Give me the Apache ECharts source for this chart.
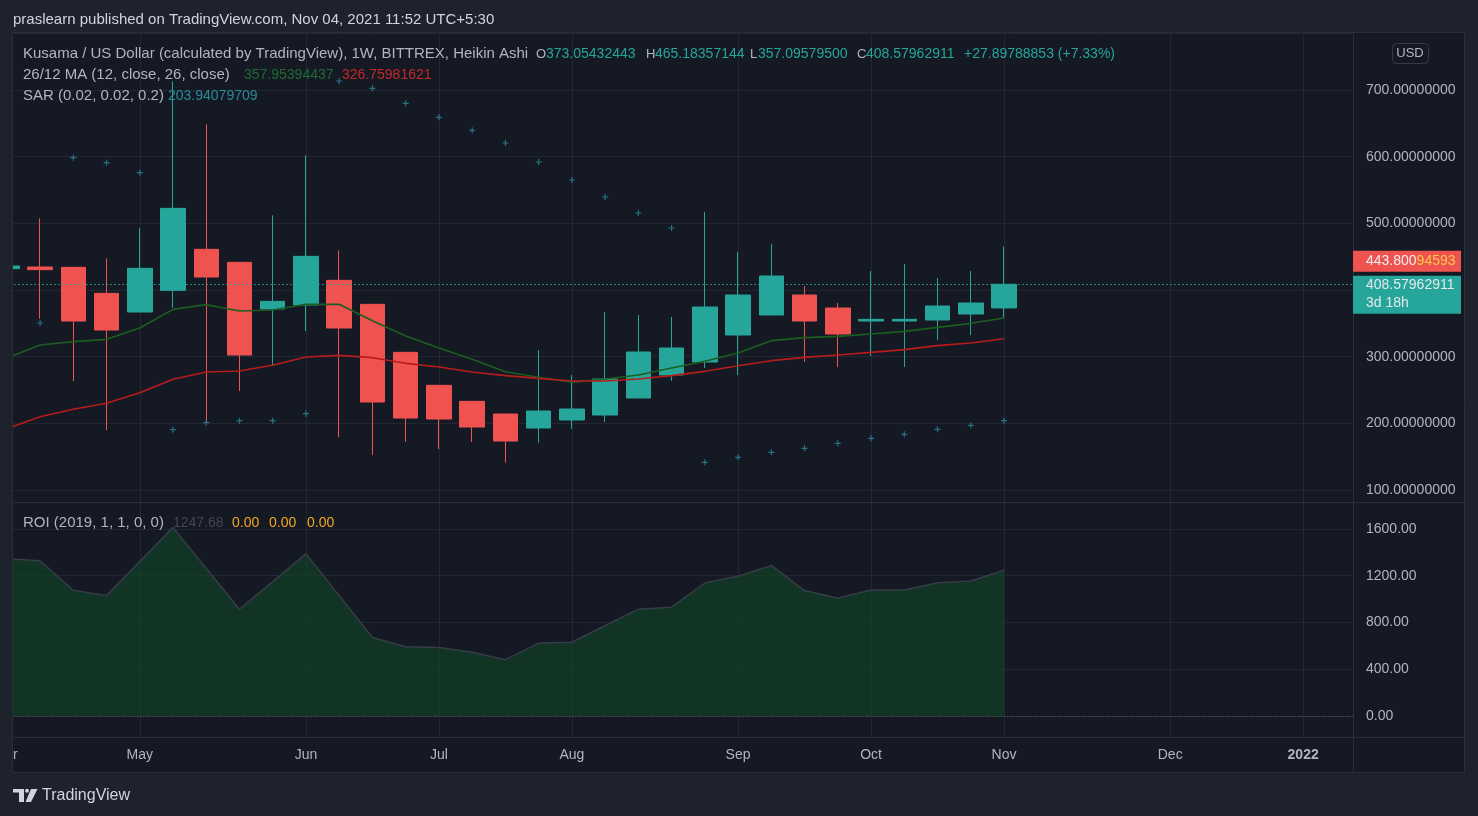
<!DOCTYPE html>
<html><head><meta charset="utf-8">
<script src="https://cdn.jsdelivr.net/npm/echarts@6/dist/echarts.min.js"></script>
<style>html,body{margin:0;padding:0;background:#1e222d;}#c{width:1478px;height:816px;}</style>
</head><body><div id="c"></div>
<script>
// ---------- DATA (weekly Heikin Ashi, KSM/USD) ----------
const weeks = ['2021-04-05','2021-04-12','2021-04-19','2021-04-26','2021-05-03','2021-05-10','2021-05-17','2021-05-24','2021-05-31',
  '2021-06-07','2021-06-14','2021-06-21','2021-06-28','2021-07-05','2021-07-12','2021-07-19','2021-07-26',
  '2021-08-02','2021-08-09','2021-08-16','2021-08-23','2021-08-30','2021-09-06','2021-09-13','2021-09-20','2021-09-27',
  '2021-10-04','2021-10-11','2021-10-18','2021-10-25','2021-11-01','2021-11-08','2021-11-15','2021-11-22','2021-11-29',
  '2021-12-06','2021-12-13','2021-12-20','2021-12-27','2022-01-03','2022-01-10'];
const openV  = [432, 434.5, 434, 395, 367, 399.5, 461, 441.5, 371.5, 377.5, 414.5, 378.5, 306.5, 257, 233, 214, 193, 205, 212.5, 238, 272.5, 292, 332.5, 362.5, 392.5, 373, 353.5, 353.5, 355, 364, 373.05432443];
const closeV = [436, 430.5, 353.5, 340, 432.5, 522.5, 419.5, 302.5, 383, 450.5, 343, 232, 208, 206.5, 194.5, 173.5, 218.5, 221.5, 266.5, 307, 313, 374.5, 392.5, 421, 353.5, 334, 356, 356, 376, 380.5, 408.57962911];
const lowV   = [432, 357, 263.5, 190, 367, 373.5, 201, 248.5, 287.5, 338.5, 179.5, 152.5, 172, 161.5, 172, 141, 171, 191.5, 202, 238, 263.5, 283, 272.5, 362.5, 292, 284.5, 301, 284.5, 325, 332.5, 357.095795];
const highV  = [436, 507.5, 434, 447.5, 492.5, 713, 648.5, 441.5, 512, 602, 459.5, 378.5, 306.5, 257, 233, 214, 310, 272.5, 367, 362.5, 359.5, 517, 457, 469, 406, 380.5, 428.5, 439, 418, 428.5, 465.18357144];
const ma12   = [298, 317.5, 322.5, 326, 343, 371, 378, 368.5, 370, 378.5, 378.5, 354, 331, 313, 296, 277.5, 269, 261.5, 266.5, 272.5, 283, 293, 305.5, 324, 328.5, 330.5, 334, 338, 344, 350, 357.95394437];
const ma26   = [192, 210, 221, 230, 246, 266, 277, 278.5, 287, 299.5, 302, 298.5, 290, 284.5, 277, 271.5, 267.5, 263.5, 263.5, 266.5, 271.5, 278, 286.5, 294, 299, 302.5, 306.5, 310.5, 316.5, 320.5, 326.75981621];
const sar    = [null, 350.5, 598.5, 591, 576, 190.5, 201, 204, 204, 214.5, 713.5, 702.5, 680, 659, 639.5, 620.5, 592, 565, 539.5, 515.5, 493, 141.5, 149, 156.5, 162.5, 170, 177.5, 183.5, 191, 197, 203.94079709];
const roi    = [1345, 1328, 1075, 1030, 1322, 1614, 1262, 913, 1150, 1387, 1030, 672, 593, 587, 545, 482, 624, 631, 772, 914, 931, 1138, 1197, 1288, 1073, 1008, 1078, 1078, 1141, 1155, 1247.68];
const monthTickIndex = [0, 4, 9, 13, 17, 22, 26, 30, 35, 39];
const monthTickLabel = ['Apr', 'May', 'Jun', 'Jul', 'Aug', 'Sep', 'Oct', 'Nov', 'Dec', '2022'];
const changeText = '+27.89788853 (+7.33%)';
const otherPrice = 443.80094593;
const countdown = '3d 18h';

// ---------- STYLE ----------
const PANEL = '#151924', OUTER = '#1e222d', GRIDC = '#232733', BORDER = '#2a2e39', TXT = '#b2b5be';
const TEAL = '#26a69a', RED = '#ef5350', SARC = '#2b8a9c';
const FONT = 'Liberation Sans';
const plotL = -9.8, plotR = 1353, W = 1478, H = 816;
const nCat = weeks.length, band = (plotR - plotL) / nCat;
const c0 = plotL + band / 2, cN = plotL + (nCat - 0.5) * band;
const last = closeV.length - 1;

const chart = echarts.init(document.getElementById('c'), null, {renderer: 'canvas'});
const hiddenCat = {axisLine: {show: false}, axisTick: {show: false}, axisLabel: {show: false}, splitLine: {show: false}};
chart.setOption({
  backgroundColor: PANEL,
  animation: false,
  textStyle: {fontFamily: FONT},
  grid: [
    {left: plotL, right: W - plotR, top: 33, bottom: H - 490, outerBoundsMode: 'none', containLabel: false},
    {left: plotL, right: W - plotR, top: 502, bottom: H - 716, outerBoundsMode: 'none', containLabel: false},
    {left: c0, right: W - cN, top: 33, bottom: H - 737, outerBoundsMode: 'none', containLabel: false}
  ],
  xAxis: [
    Object.assign({type: 'category', gridIndex: 0, data: weeks}, hiddenCat),
    Object.assign({type: 'category', gridIndex: 1, data: weeks}, hiddenCat),
    {type: 'category', gridIndex: 2, data: weeks, boundaryGap: false,
      axisLine: {show: false}, axisTick: {show: false},
      axisLabel: {show: true, interval: (i) => monthTickIndex.includes(i), margin: 11, color: TXT, fontSize: 14, fontFamily: FONT,
        formatter: (v, i) => { const k = monthTickIndex.indexOf(i); if (k < 0) return ''; const t = monthTickLabel[k]; return /^\d{4}$/.test(t) ? '{b|' + t + '}' : t; },
        rich: {b: {fontWeight: 'bold', color: TXT, fontSize: 14, fontFamily: FONT}}},
      splitLine: {show: true, interval: (i) => monthTickIndex.includes(i), lineStyle: {color: GRIDC, width: 1}}}
  ],
  yAxis: [
    {type: 'value', gridIndex: 0, position: 'right', min: 100, max: 785.5, interval: 100,
      axisLine: {show: false}, axisTick: {show: false},
      axisLabel: {color: TXT, fontSize: 14, margin: 13, fontFamily: FONT, showMaxLabel: false,
        formatter: (v) => Math.abs(v - 400) < 1e-6 ? '' : v.toFixed(8)},
      splitLine: {lineStyle: {color: GRIDC, width: 1}}},
    {type: 'value', gridIndex: 1, position: 'right', min: 0, max: 1831, interval: 400,
      axisLine: {show: false}, axisTick: {show: false},
      axisLabel: {color: TXT, fontSize: 14, margin: 13, fontFamily: FONT, showMaxLabel: false, formatter: (v) => v.toFixed(2)},
      splitLine: {lineStyle: {color: GRIDC, width: 1}}},
    {type: 'value', gridIndex: 2, show: false, min: 0, max: 1}
  ],
  series: [
    {type: 'line', name: 'MA12', xAxisIndex: 0, yAxisIndex: 0, data: ma12, symbol: 'none', lineStyle: {color: '#1b5e20', width: 1.6}},
    {type: 'line', name: 'MA26', xAxisIndex: 0, yAxisIndex: 0, data: ma26, symbol: 'none', lineStyle: {color: '#b71c1c', width: 1.6}},
    {type: 'candlestick', name: 'KSM', xAxisIndex: 0, yAxisIndex: 0, barWidth: 25,
      data: openV.map((o, i) => [o, closeV[i], lowV[i], highV[i]]),
      itemStyle: {color: TEAL, color0: RED, borderColor: TEAL, borderColor0: RED, borderWidth: 1},
      markLine: {silent: true, symbol: 'none', label: {show: false}, animation: false,
        lineStyle: {color: TEAL, type: [1.5, 2.5], width: 1}, data: [{yAxis: closeV[last]}]}},
    {type: 'scatter', name: 'SAR', xAxisIndex: 0, yAxisIndex: 0, data: sar, symbolSize: 6,
      symbol: 'path://M2,0H3V2H5V3H3V5H2V3H0V2H2Z', itemStyle: {color: SARC}},
    {type: 'line', name: 'ROI', xAxisIndex: 1, yAxisIndex: 1, data: roi, symbol: 'none',
      lineStyle: {color: '#363c48', width: 1.5}, areaStyle: {color: 'rgba(18,68,38,0.9)', origin: 'start'},
      markLine: {silent: true, symbol: 'none', label: {show: false}, animation: false,
        lineStyle: {color: '#5d606b', type: [1, 2], width: 1}, data: [{yAxis: 0}]}}
  ]
});

// ---------- overlays (frame, legends, price labels) ----------
const yTeal = chart.convertToPixel({yAxisIndex: 0}, closeV[last]);
const yRed = chart.convertToPixel({yAxisIndex: 0}, otherPrice);
const F14 = '14px "' + FONT + '"', F15 = '15px "' + FONT + '"';
const T = (x, y, text, fill, extra) => Object.assign({type: 'text', x: x, y: y, z: 110,
  style: Object.assign({text: text, fill: fill, font: F14, verticalAlign: 'middle', align: 'left'}, extra || {})});
const R = (x, y, w, h, fill, z) => ({type: 'rect', z: z || 100, shape: {x: x, y: y, width: w, height: h}, style: {fill: fill}});
const L = (x1, y1, x2, y2) => ({type: 'line', z: 105, shape: {x1: x1, y1: y1, x2: x2, y2: y2}, style: {stroke: BORDER, lineWidth: 1}});
const fmt8 = (v) => v.toFixed(8);
const W15 = {font: F15};
const F13 = {font: '13px "' + FONT + '"'};

const g = [
  R(0, 0, W, 33, OUTER), R(0, 0, 13, H, OUTER), R(1464, 0, W - 1464, H, OUTER), R(0, 772, W, H - 772, OUTER),
  {type: 'rect', z: 105, shape: {x: 12.5, y: 32.5, width: 1452, height: 740}, style: {fill: null, stroke: BORDER, lineWidth: 1}},
  L(13, 502.5, 1464, 502.5), L(13, 737.5, 1464, 737.5), L(1353.5, 33, 1353.5, 772),
  T(13, 20, 'praslearn published on TradingView.com, Nov 04, 2021 11:52 UTC+5:30', '#d1d4dc', W15),
  T(23, 54, 'Kusama / US Dollar (calculated by TradingView), 1W, BITTREX, Heikin Ashi', TXT, W15),
  T(536, 54, 'O', TXT, F13), T(546, 54, fmt8(openV[last]), TEAL),
  T(646, 54, 'H', TXT, F13), T(655, 54, fmt8(highV[last]), TEAL),
  T(750, 54, 'L', TXT, F13), T(758, 54, fmt8(lowV[last]), TEAL),
  T(857, 54, 'C', TXT, F13), T(866, 54, fmt8(closeV[last]), TEAL),
  T(964, 54, changeText, TEAL),
  T(23, 75, '26/12 MA (12, close, 26, close)', TXT, W15), T(244, 75, fmt8(ma12[last]), '#1f6b31'), T(342, 75, fmt8(ma26[last]), '#c62828'),
  T(23, 96, 'SAR (0.02, 0.02, 0.2)', TXT, W15), T(168, 96, fmt8(sar[last]), SARC),
  T(23, 523, 'ROI (2019, 1, 1, 0, 0)', TXT, W15), T(173, 523, roi[last].toFixed(2), '#434651'),
  T(232, 523, '0.00', '#f5a623'), T(269, 523, '0.00', '#f5a623'), T(307, 523, '0.00', '#f5a623'),
  {type: 'rect', z: 106, shape: {x: 1392.5, y: 43.5, width: 36, height: 20, r: 4}, style: {fill: PANEL, stroke: '#363a45', lineWidth: 1}},
  T(1410, 53.5, 'USD', TXT, {align: 'center', font: '13px "' + FONT + '"'}),
  R(1353, yRed - 10, 108, 21, RED, 107),
  {type: 'text', z: 110, x: 1366, y: yRed + 0.5, style: {text: '{w|' + fmt8(otherPrice).slice(0, 7) + '}{y|' + fmt8(otherPrice).slice(7) + '}',
    verticalAlign: 'middle', align: 'left', rich: {w: {fill: '#f0f0f0', font: F14}, y: {fill: '#f7c948', font: F14}}}},
  R(1353, yTeal - 8.5, 108, 38, TEAL, 107),
  T(1366, yTeal + 1, fmt8(closeV[last]), '#e6e8eb'),
  T(1366, yTeal + 19, countdown, '#e6e8eb'),
  {type: 'rect', z: 110, shape: {x: 13, y: 789, width: 11, height: 3.5}, style: {fill: '#d1d4dc'}},
  {type: 'rect', z: 110, shape: {x: 19, y: 789, width: 5, height: 13}, style: {fill: '#d1d4dc'}},
  {type: 'circle', z: 110, shape: {cx: 27, cy: 790.8, r: 2}, style: {fill: '#d1d4dc'}},
  {type: 'polygon', z: 110, shape: {points: [[31, 789], [37.5, 789], [31, 802], [25.5, 802]]}, style: {fill: '#d1d4dc'}},
  T(42, 796, 'TradingView', '#d1d4dc', {font: '16px "' + FONT + '"'})
];
chart.setOption({graphic: g});
</script>
</body></html>
